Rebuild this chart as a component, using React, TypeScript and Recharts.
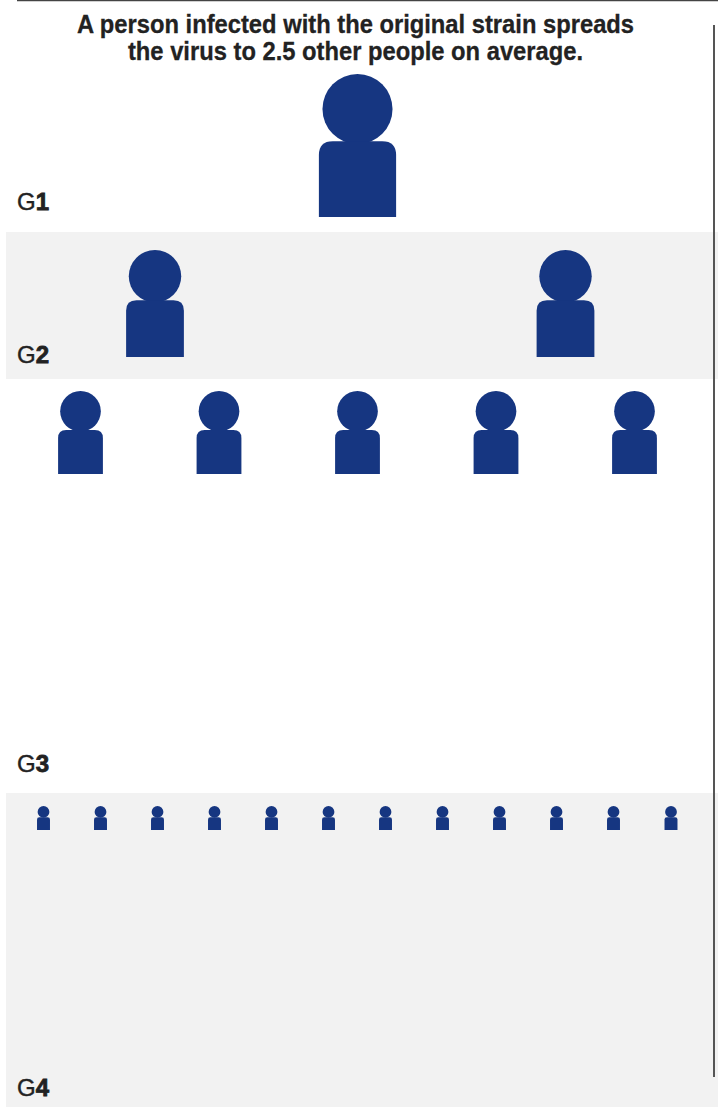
import React from 'react';
import { ScatterChart, Scatter, XAxis, YAxis, ReferenceArea, ReferenceLine } from 'recharts';

const WIDTH = 718;
const HEIGHT = 1110;

const TITLE_LINES = ['A person infected with the original strain spreads', 'the virus to 2.5 other people on average.'];

// x of each person, y of the row's foot line
const G1_X = [357.5];
const G2_X = [155, 565.5];
const G3_X = [80.5, 219, 357.5, 496, 634.5];
const G4_X = [43.5, 100.5, 157.5, 214.5, 271.5, 328.5, 385.5, 442.5, 499.5, 556.5, 613.5, 671];
const ROW_FEET = [217, 357, 474, 830];
const LABELS = ['G1', 'G2', 'G3', 'G4'];
const LABEL_Y = [210, 363, 772, 1096];
const SHADED_BANDS = [[232, 379], [793, 1107]];

const PERSON_HEIGHTS = [143, 107, 83, 24];
const BLUE = '#163681';
const INK = '#222222';
const FONT = '"Liberation Sans", Arial, sans-serif';

const toPoints = (xs: number[], foot: number) => xs.map(x => ({ x, y: foot }));

const Person = ({ cx, cy, h }: any) => {
  const r = h * 0.245;
  const w = h * 0.54;
  const bodyH = h * 0.53;
  const rad = w * 0.18;
  const left = cx - w / 2;
  const top = cy - bodyH;
  return (
    <g>
      <circle cx={cx} cy={cy - h + r} r={r} fill={BLUE} />
      <path
        d={`M${left},${cy} V${top + rad} Q${left},${top} ${left + rad},${top} H${left + w - rad} Q${left + w},${top} ${left + w},${top + rad} V${cy} Z`}
        fill={BLUE}
      />
    </g>
  );
};

const GenLabel = ({ cx, cy, payload }: any) => (
  <text x={cx} y={cy} fontFamily={FONT} fontSize={24} fill={INK} stroke={INK} strokeWidth={0.4}>
    <tspan>{payload.label[0]}</tspan>
    <tspan fontWeight="bold" strokeWidth={0.8}>{payload.label[1]}</tspan>
  </text>
);

const rows = [G1_X, G2_X, G3_X, G4_X];
const labelPoints = LABELS.map((label, i) => ({ x: 17, y: LABEL_Y[i], label }));

export default function App() {
  return (
    <div style={{ position: 'absolute', left: 0, top: 0, width: WIDTH, height: HEIGHT, background: '#fff', overflow: 'hidden' }}>
      <ScatterChart width={WIDTH} height={HEIGHT} margin={{ top: 0, right: 0, bottom: 0, left: 0 }}>
        <XAxis type="number" dataKey="x" domain={[0, WIDTH]} hide />
        <YAxis type="number" dataKey="y" domain={[0, HEIGHT]} reversed hide />
        {SHADED_BANDS.map(([y1, y2]) => (
          <ReferenceArea key={y1} x1={6} x2={WIDTH} y1={y1} y2={y2} fill="#f2f2f2" fillOpacity={1} stroke="none" />
        ))}
        <ReferenceLine segment={[{ x: 17, y: 0.5 }, { x: WIDTH, y: 0.5 }]} stroke="#444" strokeWidth={1.5} />
        <ReferenceLine segment={[{ x: 714, y: 25 }, { x: 714, y: 1077 }]} stroke="#555" strokeWidth={2} />
        {rows.map((xs, i) => (
          <Scatter
            key={LABELS[i]}
            data={toPoints(xs, ROW_FEET[i])}
            isAnimationActive={false}
            shape={(p: any) => <Person cx={p.cx} cy={p.cy} h={PERSON_HEIGHTS[i]} />}
          />
        ))}
        <Scatter data={labelPoints} isAnimationActive={false} shape={(p: any) => <GenLabel {...p} />} />
      </ScatterChart>
      <div
        style={{
          position: 'absolute',
          left: 0,
          top: 11,
          width: 711,
          textAlign: 'center',
          fontFamily: FONT,
          fontWeight: 'bold',
          fontSize: 26,
          lineHeight: '27px',
          color: INK,
          transform: 'scaleX(0.913)',
          WebkitTextStroke: '0.3px #222222',
        }}
      >
        {TITLE_LINES.map(line => (
          <div key={line}>{line}</div>
        ))}
      </div>
    </div>
  );
}
